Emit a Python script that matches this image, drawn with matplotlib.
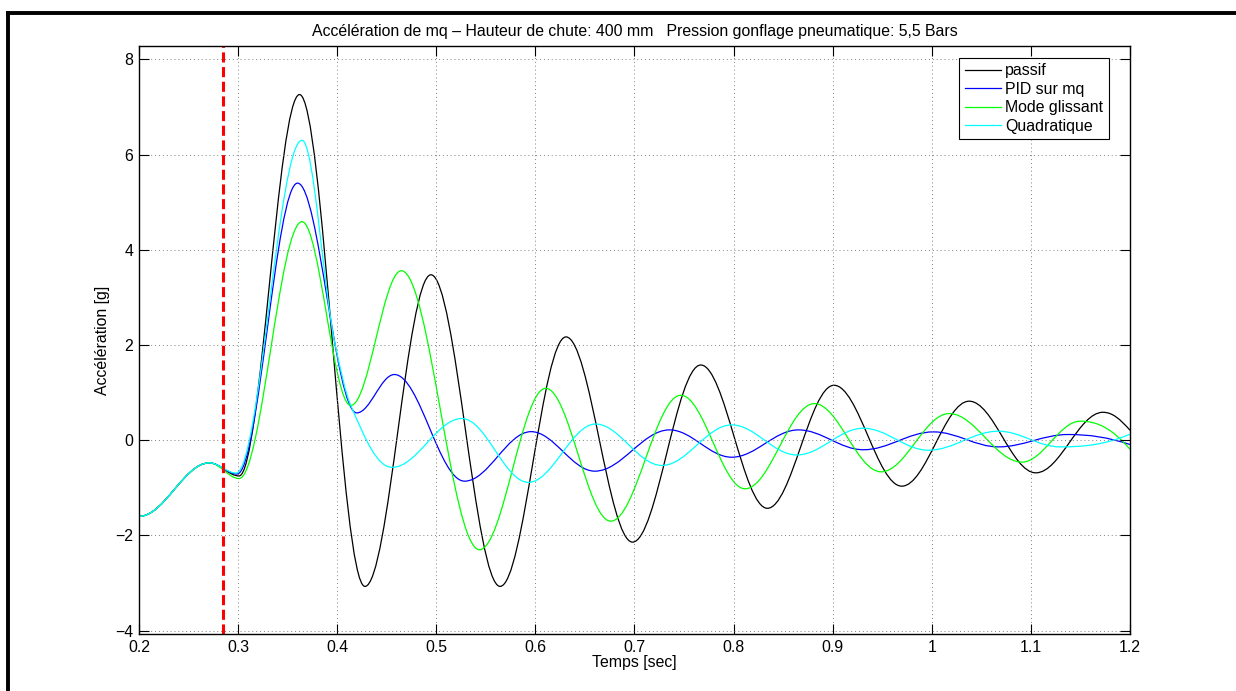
#!/usr/bin/env python3

import numpy as np
import matplotlib
matplotlib.use("Agg")
from matplotlib import pyplot as plt
from matplotlib.lines import Line2D
from matplotlib.path import Path
from matplotlib.patches import PathPatch

plt.rcParams["font.family"] = ["Liberation Sans", "DejaVu Sans"]
plt.rcParams["font.size"] = 11.4

# Values: turning points of each signal (time [s], accel [g])
t_passif = [0.200, 0.271, 0.301, 0.362, 0.428, 0.4946, 0.5644, 0.6309, 0.698, 0.7669,
            0.8341, 0.9013, 0.9697, 1.0377, 1.105, 1.1727, 1.200]
a_passif = [-1.60, -0.475, -0.75, 7.26, -3.07, 3.475, -3.07, 2.17, -2.14, 1.58,
            -1.43, 1.154, -0.965, 0.82, -0.685, 0.587, 0.21]

t_pid = [0.200, 0.271, 0.299, 0.360, 0.4197, 0.4577, 0.5285, 0.5956, 0.660, 0.7353,
         0.7981, 0.8654, 0.931, 1.0017, 1.0673, 1.1374, 1.200]
a_pid = [-1.60, -0.475, -0.71, 5.40, 0.574, 1.38, -0.86, 0.18, -0.65, 0.217,
         -0.357, 0.217, -0.20, 0.175, -0.14, 0.12, -0.09]

t_glissant = [0.200, 0.271, 0.301, 0.3645, 0.4137, 0.4648, 0.5436, 0.6104, 0.676, 0.7467,
              0.8116, 0.8815, 0.9488, 1.0175, 1.0909, 1.1498, 1.200]
a_glissant = [-1.60, -0.475, -0.805, 4.59, 0.73, 3.56, -2.30, 1.09, -1.70, 0.944,
              -1.02, 0.769, -0.664, 0.56, -0.46, 0.40, -0.19]

t_quad = [0.200, 0.271, 0.298, 0.3645, 0.398, 0.4137, 0.4554, 0.5258, 0.593, 0.6607,
          0.7276, 0.7981, 0.8637, 0.9309, 0.9966, 1.0673, 1.1296, 1.200]
a_quad = [-1.60, -0.475, -0.69, 6.30, 2.0, 0.73, -0.57, 0.456, -0.885, 0.34,
          -0.53, 0.322, -0.31, 0.252, -0.21, 0.19, -0.14, 0.126]

labels = ["passif", "PID sur mq", "Mode glissant", "Quadratique"]
colors = ["#000000", "#0000ff", "#00ff00", "#00ffff"]
t_impact = 0.285


def slopes(x, y):
    # monotone (Fritsch-Carlson) tangents, flat at turning points and at the start
    x = np.asarray(x, float)
    y = np.asarray(y, float)
    h = np.diff(x)
    d = np.diff(y) / h
    m = np.zeros_like(y)
    for k in range(1, len(x) - 1):
        if d[k - 1] * d[k] > 0:
            w1 = 2 * h[k] + h[k - 1]
            w2 = h[k] + 2 * h[k - 1]
            m[k] = (w1 + w2) / (w1 / d[k - 1] + w2 / d[k])
    mn = ((2 * h[-1] + h[-2]) * d[-1] - h[-1] * d[-2]) / (h[-1] + h[-2])
    if np.sign(mn) != np.sign(d[-1]):
        mn = 0.0
    m[-1] = mn
    return m


def smooth_path(x, y, k=0.36):
    m = slopes(x, y)
    verts = [(x[0], y[0])]
    codes = [Path.MOVETO]
    for i in range(len(x) - 1):
        h = x[i + 1] - x[i]
        verts += [(x[i] + k * h, y[i] + m[i] * k * h),
                  (x[i + 1] - k * h, y[i + 1] - m[i + 1] * k * h),
                  (x[i + 1], y[i + 1])]
        codes += [Path.CURVE4] * 3
    return Path(verts, codes)


fig = plt.figure(figsize=(12.36, 6.91), dpi=100)
ax = fig.add_axes([139 / 1236, 1 - 634 / 691, 991 / 1236, 588 / 691])

series = [(t_passif, a_passif), (t_pid, a_pid), (t_glissant, a_glissant), (t_quad, a_quad)]
handles = []
for (t, a), c, lab in zip(series, colors, labels):
    ax.add_patch(PathPatch(smooth_path(t, a), fill=False, edgecolor=c, lw=0.9))
    handles.append(Line2D([], [], color=c, lw=0.9, label=lab))

ax.axvline(t_impact, color="red", lw=2.2, dashes=(3.3, 1.5))

ax.set_xlim(0.2, 1.2)
ax.set_ylim(-4.07, 8.28)
xt = np.arange(2, 13) / 10
ax.set_xticks(xt)
ax.set_xticklabels(["%g" % v for v in xt])
ax.set_yticks([-4, -2, 0, 2, 4, 6, 8])
ax.grid(True, color="#808080", lw=0.7, linestyle=(0, (1, 3)))
ax.tick_params(direction="in", length=7, width=0.8, top=True, right=True, pad=4)
for s in ax.spines.values():
    s.set_linewidth(1.0)

ax.set_title("Accélération de mq \u2013 Hauteur de chute: 400 mm   Pression gonflage pneumatique: 5,5 Bars",
             fontsize=11.4, pad=7)
ax.set_xlabel("Temps [sec]", labelpad=0)
ax.set_ylabel("Accélération [g]", labelpad=4)

leg = ax.legend(handles=handles, loc="upper right", bbox_to_anchor=(0.9785, 0.980),
                borderaxespad=0, fancybox=False, edgecolor="k", framealpha=1,
                handlelength=2.3, handletextpad=0.26, labelspacing=0.22, borderpad=0.35)
leg.get_frame().set_linewidth(0.8)

# outer frame of the exported figure (top and left edges)
fig.add_artist(Line2D([8 / 1236, 1], [1 - 13 / 691, 1 - 13 / 691], color="k", lw=2.8,
                      transform=fig.transFigure))
fig.add_artist(Line2D([8 / 1236, 8 / 1236], [0, 1 - 13 / 691], color="k", lw=2.8,
                      transform=fig.transFigure))

fig.savefig("out.png", dpi=100)
